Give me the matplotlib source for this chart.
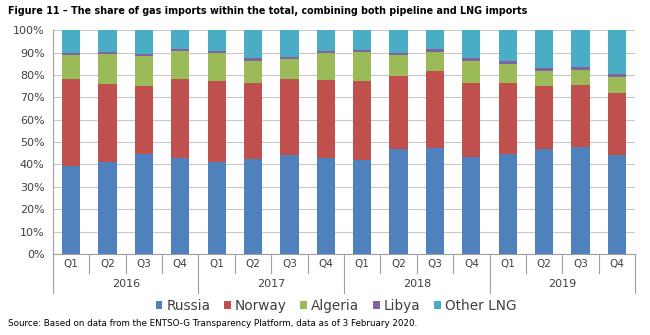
import matplotlib
matplotlib.use("Agg")
from matplotlib import pyplot as plt
from matplotlib.ticker import PercentFormatter
import numpy as np

years = ["2016", "2017", "2018", "2019"]
quarters = ["Q1", "Q2", "Q3", "Q4"]

# cumulative tops, in %
russia_top = [39.4, 40.9, 44.7, 42.8, 40.9, 42.6, 44.3, 42.8,
              42.1, 47.0, 47.4, 43.5, 44.6, 46.8, 48.0, 44.3]
norway_top = [78.3, 75.8, 74.9, 78.3, 77.1, 76.4, 78.3, 77.7,
              77.4, 79.6, 81.9, 76.2, 76.5, 74.9, 75.5, 71.8]
algeria_top = [88.9, 89.2, 88.3, 90.5, 89.9, 86.3, 86.9, 90.0,
               90.2, 89.0, 90.2, 86.3, 84.8, 81.7, 82.2, 79.2]
libya_top = [90.0, 90.2, 89.5, 91.7, 90.8, 87.7, 88.1, 90.8,
             91.2, 89.9, 91.5, 87.5, 86.0, 83.1, 83.4, 80.4]

series = ["Russia", "Norway", "Algeria", "Libya", "Other LNG"]
colors = ["#4F81BD", "#C0504D", "#9BBB59", "#8064A2", "#4BACC6"]

tops = np.array([russia_top, norway_top, algeria_top, libya_top,
                 [100.0] * 16])
shares = np.diff(np.vstack([np.zeros(16), tops]), axis=0)

fig = plt.figure(figsize=(6.5, 3.35), dpi=100)
ax = fig.add_axes([0.0815, 0.242, 0.8955, 0.668])

x = np.arange(16)
bottom = np.zeros(16)
for name, vals, c in zip(series, shares, colors):
    ax.bar(x, vals, 0.5, bottom=bottom, color=c, label=name, zorder=3)
    bottom += vals

ax.set_xlim(-0.5, 15.5)
ax.set_ylim(0, 100)
ax.set_yticks(np.arange(0, 101, 10))
ax.yaxis.set_major_formatter(PercentFormatter(decimals=0))
ax.tick_params(axis="y", length=0, labelsize=8, labelcolor="#404040", pad=6)
ax.grid(axis="y", color="#c8c8c8", linewidth=0.8, zorder=0)
for s in ["top", "right", "bottom"]:
    ax.spines[s].set_visible(False)
ax.spines["left"].set_color("#a0a0a0")
ax.set_xticks([])

# category axis: quarters, then years
trans = ax.get_xaxis_transform()
ax.plot([-0.5, 15.5], [0, 0], transform=trans, color="#a0a0a0",
        linewidth=0.8, clip_on=False)
for i in range(17):
    low = -0.175 if i % 4 == 0 else -0.085
    ax.plot([i - 0.5, i - 0.5], [0, low], transform=trans, color="#a0a0a0",
            linewidth=0.8, clip_on=False)
for i in range(16):
    ax.text(i, -0.045, quarters[i % 4], transform=trans, ha="center",
            va="center", fontsize=7.5, color="#404040")
for j, yr in enumerate(years):
    ax.text(4 * j + 1.5, -0.135, yr, transform=trans, ha="center",
            va="center", fontsize=8, color="#404040")

fig.legend(loc="center", bbox_to_anchor=(0.517, 0.088), ncol=5, frameon=False,
           fontsize=9.8, handlelength=0.5, handleheight=0.5,
           columnspacing=1.0, handletextpad=0.3, labelcolor="#404040")

fig.text(0.012, 0.968, "Figure 11 \u2013 The share of gas imports within the total, "
         "combining both pipeline and LNG imports", fontsize=6.9,
         fontweight="bold", va="center", ha="left")
fig.text(0.012, 0.035, "Source: Based on data from the ENTSO-G Transparency "
         "Platform, data as of 3 February 2020.", fontsize=6.3,
         va="center", ha="left")

fig.savefig("out.png", dpi=100)
